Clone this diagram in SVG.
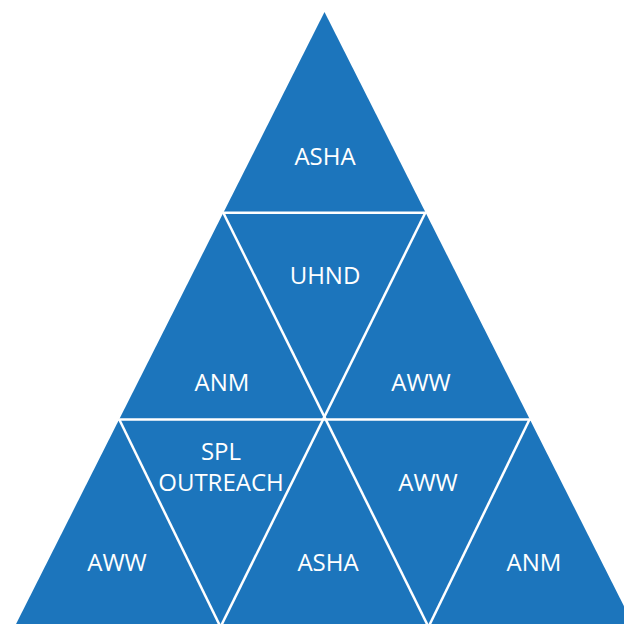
<svg xmlns="http://www.w3.org/2000/svg" width="624" height="624" viewBox="0 0 624 624">
<style>
.tri{fill:#1c75bc}
.ln{stroke:#ffffff;stroke-width:2.5;fill:none}
.lbl{font-family:"Open Sans","Noto Sans",sans-serif;font-size:24px;fill:#ffffff;text-anchor:middle}
</style>
<rect width="624" height="624" fill="#ffffff"/>
<g id="pyramid">
<polygon class="tri" points="324.5,12 639,636 10,636"/>
</g>
<g id="connectors">
<line class="ln" x1="222.5" y1="212.7" x2="426.5" y2="212.7"/>
<line class="ln" x1="118" y1="419.5" x2="531" y2="419.5"/>
<line class="ln" x1="223.3" y1="212.7" x2="430" y2="630"/>
<line class="ln" x1="425.3" y1="212.7" x2="219" y2="630"/>
<line class="ln" x1="119.3" y1="419.5" x2="222" y2="630"/>
<line class="ln" x1="529.5" y1="419.5" x2="427" y2="630"/>
</g>
<g id="n-asha-top"><text class="lbl" x="325" y="165">ASHA</text></g>
<g id="n-uhnd"><text class="lbl" x="325" y="284">UHND</text></g>
<g id="n-anm-mid"><text class="lbl" x="222" y="391">ANM</text></g>
<g id="n-aww-mid"><text class="lbl" x="421" y="391">AWW</text></g>
<g id="n-spl"><text class="lbl" x="221" y="460">SPL</text><text class="lbl" x="221" y="491">OUTREACH</text></g>
<g id="n-aww-r"><text class="lbl" x="428" y="491">AWW</text></g>
<g id="n-aww-l"><text class="lbl" x="117" y="571">AWW</text></g>
<g id="n-asha-bot"><text class="lbl" x="328" y="571">ASHA</text></g>
<g id="n-anm-r"><text class="lbl" x="534" y="571">ANM</text></g>
</svg>
